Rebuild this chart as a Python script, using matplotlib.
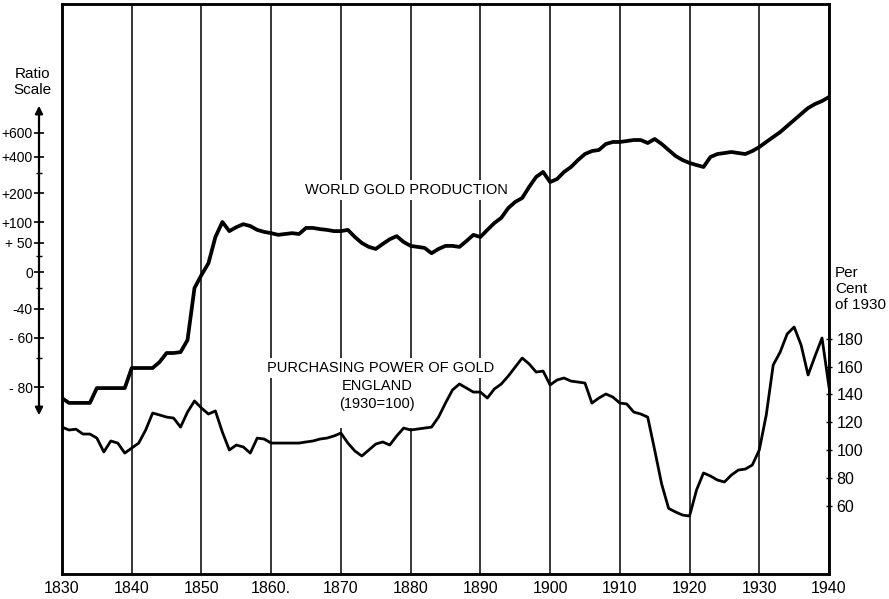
import matplotlib
matplotlib.use("Agg")
import matplotlib.pyplot as plt
from matplotlib.patches import FancyArrowPatch, Rectangle
from matplotlib.ticker import NullFormatter, NullLocator

plt.rcParams["font.family"] = ["Liberation Sans", "DejaVu Sans"]

# ---------------- data ----------------
years = list(range(1830, 1941))

# World gold production, ratio-scale index (100 = the "0" line of the ratio scale)
gold_index = [
    17.2, 16.1, 16.1, 16.1, 16.1, 19.8, 19.8, 19.8, 19.8, 19.8,      # 1830-39
    26.2, 26.2, 26.2, 26.2, 28.5, 32.3, 32.3, 32.7, 38.7, 80.0,      # 1840-49
    95.9, 113, 163, 201, 177, 187, 195, 190, 180, 175,               # 1850-59
    172, 168, 170, 172, 170, 185, 185, 182, 180, 177,                # 1860-69
    177, 180, 163, 150, 142, 138, 148, 158, 165, 152,                # 1870-79
    144, 142, 140, 130, 138, 144, 144, 142, 154, 168,                # 1880-89
    163, 180, 198, 213, 244, 266, 281, 328, 377, 404,                # 1890-99
    351, 366, 404, 433, 477, 519, 541, 549, 597, 614,                # 1900-09
    614, 622, 631, 631, 605, 640, 597, 549, 505, 477,                # 1910-19
    458, 445, 433, 498, 519, 526, 534, 526, 519, 541,                # 1920-29
    572, 614, 658, 705, 767, 834, 907, 986, 1043, 1087, 1150,        # 1930-40
]

# Purchasing power of gold, England (1930 = 100)
pp_england = [
    116.5, 114.4, 115.0, 111.5, 111.5, 108.6, 98.6, 106.5, 105.0, 97.8,    # 1830-39
    101.4, 105.0, 114.4, 126.6, 125.2, 123.7, 123.0, 116.5, 127.3, 135.3,  # 1840-49
    130.2, 125.9, 128.1, 112.9, 100.0, 103.6, 102.2, 97.8, 108.6, 107.9,   # 1850-59
    105.0, 105.0, 105.0, 105.0, 105.0, 105.8, 106.5, 107.9, 108.6, 110.1,  # 1860-69
    112.2, 105.0, 99.3, 95.7, 100.0, 104.3, 105.8, 103.6, 110.1, 115.8,    # 1870-79
    114.4, 115.1, 115.8, 116.5, 123.7, 133.8, 143.2, 147.5, 144.6, 141.7,  # 1880-89
    141.7, 137.4, 143.9, 147.5, 153.2, 159.7, 166.2, 161.9, 156.1, 156.8,  # 1890-99
    146.8, 150.4, 151.8, 149.6, 148.9, 148.2, 133.8, 137.4, 140.3, 138.1,  # 1900-09
    133.8, 133.1, 127.3, 125.9, 123.7, 100.0, 75.5, 58.0, 55.4, 53.2,      # 1910-19
    52.5, 71.2, 83.5, 81.3, 78.4, 77.0, 82.0, 85.6, 86.3, 89.2,            # 1920-29
    100.0, 125.2, 161.2, 170.5, 183.5, 188.5, 175.5, 154.0, 167.6, 180.6, 145.3,  # 1930-40
]

decade_ticks = list(range(1830, 1941, 10))
decade_labels = ["1830", "1840", "1850", "1860.", "1870", "1880",
                 "1890", "1900", "1910", "1920", "1930", "1940"]

ratio_pct = [600, 400, 200, 100, 50, 0, -40, -60, -80]
ratio_labels = ["+600", "+400", "+200", "+100", "+ 50", "0", "-40", "- 60", "- 80"]
ratio_minor_pct = [300, 25, -20, -70]

pp_ticks = [60, 80, 100, 120, 140, 160, 180]

# ---------------- figure ----------------
W, H = 889, 599
fig = plt.figure(figsize=(W / 100, H / 100), dpi=100)
fig.patch.set_facecolor("white")

x0, x1 = 62, 829
ytop, ybot = 4, 574
rect = [x0 / W, 1 - ybot / H, (x1 - x0) / W, (ybot - ytop) / H]


def ax_xy(px, py):
    """figure pixel (from top-left) -> axes fraction"""
    return (px - x0) / (x1 - x0), (ybot - py) / (ybot - ytop)


ax = fig.add_axes(rect)
ax.set_xlim(1830, 1940)
ax.set_yscale("log")
gold_lim = (1.479, 4210)
ax.set_ylim(*gold_lim)

ax2 = ax.twinx()
ax2.set_ylim(10.8, 420.9)

ax.yaxis.set_major_locator(NullLocator())
ax.yaxis.set_minor_locator(NullLocator())
ax.tick_params(axis="y", which="both", left=False, labelleft=False,
               right=False, labelright=False)
ax.set_xticks(decade_ticks)
ax.set_xticklabels(decade_labels, fontsize=11.5)
ax.tick_params(axis="x", length=0, pad=5)
ax.xaxis.grid(True, color="black", linewidth=1.1)
for s in ax.spines.values():
    s.set_linewidth(1.8)

ax.plot(years, gold_index, color="black", linewidth=2.7,
        solid_joinstyle="round", zorder=3)

# right axis: purchasing power
ax2.set_yticks(pp_ticks)
ax2.set_yticklabels([str(v) for v in pp_ticks], fontsize=11.5)
ax2.tick_params(axis="y", direction="inout", length=5, width=1.0, pad=3)
for s in ax2.spines.values():
    s.set_linewidth(1.8)
ax2.plot(years, pp_england, color="black", linewidth=2.0,
         solid_joinstyle="round", zorder=3)

# white block that interrupts the grid lines behind the lower label
bx0, by0 = ax_xy(337, 428)
bx1, by1 = ax_xy(414, 377)
ax2.add_patch(Rectangle((bx0, by0), bx1 - bx0, by1 - by0, transform=ax2.transAxes,
                        facecolor="white", edgecolor="none", zorder=2))

bbox = dict(facecolor="white", edgecolor="none", pad=2.0)
tx, ty = ax_xy(305, 190)
ax2.text(tx, ty, "WORLD GOLD PRODUCTION", transform=ax2.transAxes,
         ha="left", va="center", fontsize=10.5, bbox=bbox, zorder=4)
tx, ty = ax_xy(267, 368)
ax2.text(tx, ty, "PURCHASING POWER OF GOLD", transform=ax2.transAxes,
         ha="left", va="center", fontsize=10.5, bbox=bbox, zorder=4)
tx, ty = ax_xy(377, 386)
ax2.text(tx, ty, "ENGLAND", transform=ax2.transAxes,
         ha="center", va="center", fontsize=10.5, zorder=4)
tx, ty = ax_xy(377, 404)
ax2.text(tx, ty, "(1930=100)", transform=ax2.transAxes,
         ha="center", va="center", fontsize=10.5, zorder=4)

fig.text(835 / W, 1 - 266 / H, "Per\nCent\nof 1930", ha="left", va="top",
         fontsize=11, linespacing=1.2)

# left ratio scale
axl = fig.add_axes([39 / W, rect[1], 0.0001, rect[3]])
axl.set_yscale("log")
axl.set_ylim(*gold_lim)
axl.set_xticks([])
for s in axl.spines.values():
    s.set_visible(False)
axl.set_yticks([100 + p for p in ratio_pct])
axl.set_yticklabels(ratio_labels, fontsize=10)
axl.set_yticks([100 + p for p in ratio_minor_pct], minor=True)
axl.yaxis.set_minor_formatter(NullFormatter())
axl.tick_params(axis="y", which="major", direction="inout", length=7,
                width=1.2, pad=1)
axl.tick_params(axis="y", which="minor", direction="inout", length=5,
                width=1.0)
axl.patch.set_visible(False)

arrow = FancyArrowPatch((39 / W, 1 - 418 / H), (39 / W, 1 - 103 / H),
                        transform=fig.transFigure, arrowstyle="<|-|>",
                        mutation_scale=11, linewidth=1.6, color="black")
fig.add_artist(arrow)

fig.text(32 / W, 1 - 82 / H, "Ratio\nScale", ha="center", va="center",
         fontsize=11, linespacing=1.15)

fig.savefig("out.png", dpi=100, facecolor="white")
